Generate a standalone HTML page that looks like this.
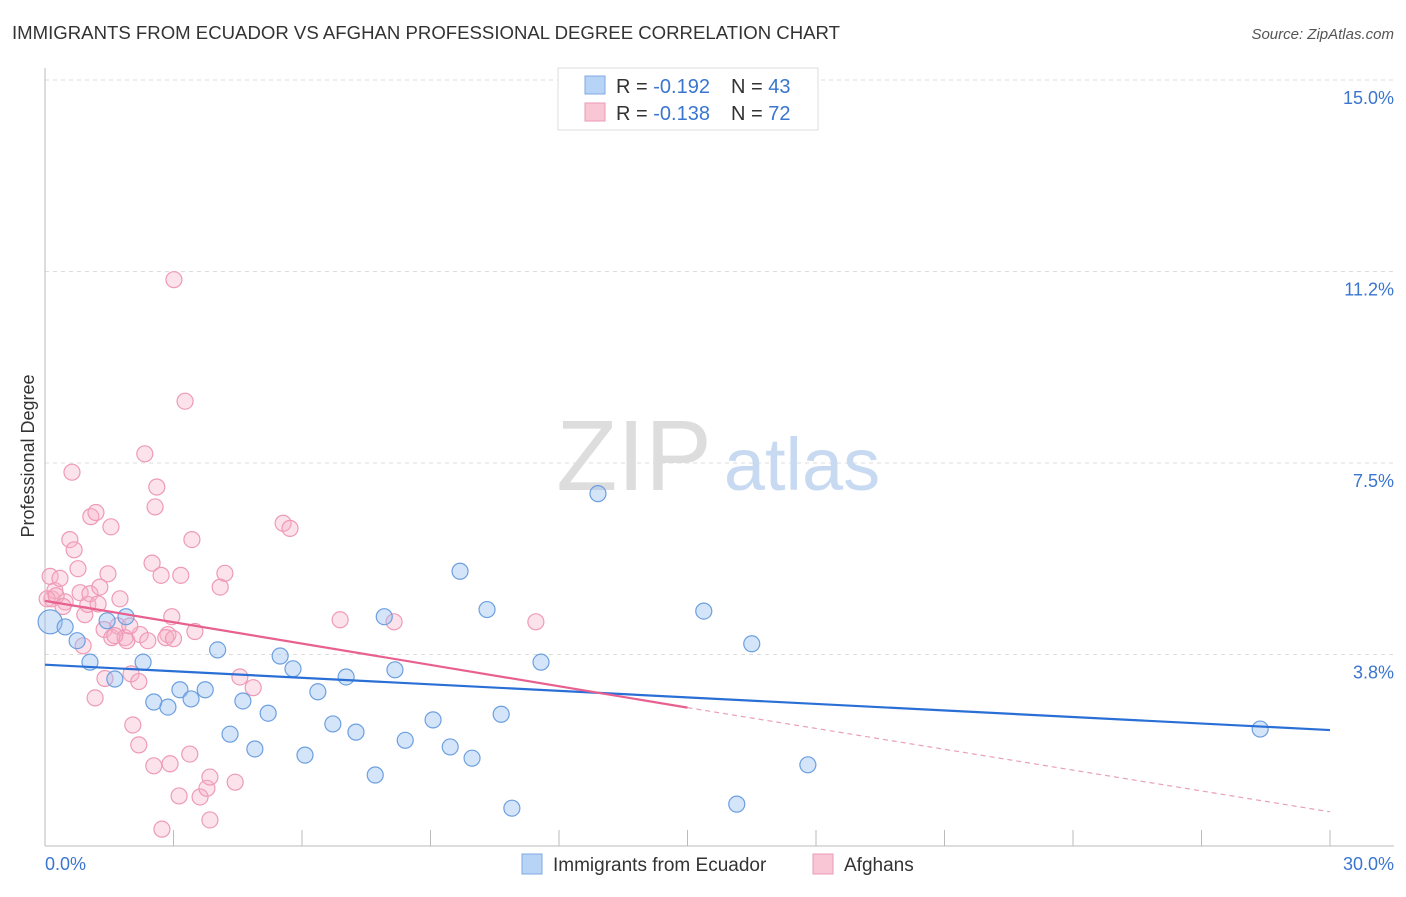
<!DOCTYPE html>
<html><head><meta charset="utf-8">
<style>
body{margin:0;background:#fff;font-family:"Liberation Sans",sans-serif;}
svg text{font-family:"Liberation Sans",sans-serif;}
</style></head>
<body>
<svg width="1406" height="892" viewBox="0 0 1406 892">
<text x="12" y="39" font-size="18" fill="#333" textLength="828" lengthAdjust="spacingAndGlyphs">IMMIGRANTS FROM ECUADOR VS AFGHAN PROFESSIONAL DEGREE CORRELATION CHART</text>
<text x="1394" y="39" font-size="15" fill="#555" font-style="italic" text-anchor="end">Source: ZipAtlas.com</text>
<g id="grid"></g>
<text x="634" y="490" font-size="100" fill="#ddd" font-family="Liberation Serif" text-anchor="middle">ZIP</text>
<text x="802" y="490" font-size="74" fill="#c8daf2" text-anchor="middle">atlas</text>
<text x="34" y="456" font-size="18" fill="#333" text-anchor="middle" transform="rotate(-90 34 456)">Professional Degree</text>
<g id="points"></g>
<g id="trends"></g>
<g>
<rect x="558" y="68" width="260" height="62" fill="#fff" stroke="#ddd"/>
<rect x="585" y="76" width="20" height="18" fill="#b7d3f6" stroke="#7fa9e3"/>
<text x="616" y="93" font-size="20" fill="#333">R = <tspan fill="#3a75d0">-0.192</tspan></text>
<text x="731" y="93" font-size="20" fill="#333">N = <tspan fill="#3a75d0">43</tspan></text>
<rect x="585" y="103" width="20" height="18" fill="#f9c6d6" stroke="#ec9ab6"/>
<text x="616" y="120" font-size="20" fill="#333">R = <tspan fill="#3a75d0">-0.138</tspan></text>
<text x="731" y="120" font-size="20" fill="#333">N = <tspan fill="#3a75d0">72</tspan></text>
</g>
<g>
<rect x="522" y="854" width="20" height="20" fill="#b7d3f6" stroke="#7fa9e3"/>
<text x="553" y="871" font-size="19" fill="#333">Immigrants from Ecuador</text>
<rect x="813" y="854" width="20" height="20" fill="#f9c6d6" stroke="#ec9ab6"/>
<text x="844" y="871" font-size="19" fill="#333">Afghans</text>
</g>
</svg>
<script>
const yTicks=[15,11.25,7.5,3.75];
const yTickLabels=["15.0%","11.2%","7.5%","3.8%"];
const xTickLabels=["0.0%","30.0%"];
const blueX=[0.12,0.47,0.75,1.05,1.45,1.89,1.63,2.29,2.54,2.87,3.15,3.41,3.74,4.03,4.32,4.62,4.9,5.21,5.49,5.79,6.07,6.37,6.72,7.03,7.26,7.71,7.92,8.17,8.41,9.06,9.46,9.69,9.97,10.32,10.65,10.9,11.58,12.91,15.38,16.15,16.5,17.81,28.37];
const blueY=[4.39,4.29,4.02,3.6,4.41,4.49,3.27,3.6,2.82,2.72,3.06,2.88,3.06,3.84,2.19,2.84,1.9,2.6,3.72,3.47,1.78,3.02,2.39,3.31,2.23,1.39,4.49,3.45,2.07,2.47,1.94,5.38,1.72,4.63,2.58,0.74,3.6,6.9,4.6,0.82,3.96,1.59,2.29];
const pinkX=[0.12,0.16,0.23,0.35,0.47,0.58,0.63,0.68,0.77,0.82,0.93,1.0,1.05,1.07,1.19,1.28,1.38,1.54,1.17,1.4,1.47,1.56,1.75,1.7,1.87,1.91,2.01,2.05,2.19,2.19,2.22,2.33,2.4,2.5,2.54,2.57,2.61,2.71,2.73,2.87,2.92,2.96,3.01,3.13,3.17,3.27,3.38,3.43,3.5,3.62,3.78,3.85,3.85,4.09,4.2,4.44,4.55,4.86,5.56,5.72,6.89,8.15,11.46,0.05,0.26,0.89,1.63,1.98,2.82,1.24,0.42,3.0];
const pinkY=[5.28,4.84,5.0,5.24,4.78,6.0,7.32,5.8,5.43,4.96,4.53,4.73,4.94,6.45,6.53,5.07,4.24,6.25,2.9,3.28,5.33,4.08,4.84,4.31,4.08,4.02,3.37,2.37,1.98,3.22,4.14,7.68,4.02,5.54,1.57,6.64,7.03,5.3,0.33,4.14,1.61,4.49,11.09,0.98,5.3,8.71,1.8,6.0,4.2,0.96,1.13,0.51,1.35,5.07,5.34,1.25,3.31,3.1,6.32,6.22,4.43,4.39,4.39,4.84,4.9,3.92,4.12,4.31,4.08,4.74,4.69,4.06];
const blueTrend=[0,3.55,30,2.27];
const pinkTrend=[0,4.8,15,2.71,30,0.67];
const X=v=>45+v/30*1285, Y=v=>846-v/3.75*191.5;
const NS="http://www.w3.org/2000/svg";
function mk(tag,attrs,parent){const e=document.createElementNS(NS,tag);for(const k in attrs)e.setAttribute(k,attrs[k]);document.getElementById(parent).appendChild(e);return e;}
yTicks.forEach((t,i)=>{
 const l=mk('line',{x1:45,x2:1394,y1:Y(t),y2:Y(t),stroke:'#ddd','stroke-dasharray':'4,4'},'grid');
 
 
 const tx=mk('text',{x:1394,y:Y(t)+24,'font-size':18,fill:'#3a75d0','text-anchor':'end'},'grid');tx.textContent=yTickLabels[i];
 
 
});
mk('line',{x1:45,x2:45,y1:68,y2:846,stroke:'#bbb'},'grid');
mk('line',{x1:45,x2:1394,y1:846,y2:846,stroke:'#bbb'},'grid');
for(let i=0;i<=10;i++){const t=mk('line',{x1:X(i*3),x2:X(i*3),y1:830,y2:846,stroke:'#bbb'},'grid');}
[[0,45,'start'],[30,1394,'end']].forEach((a,i)=>{const t=mk('text',{x:a[1],y:870,'font-size':18,fill:'#3a75d0','text-anchor':a[2]},'grid');t.textContent=xTickLabels[i];

});
pinkX.forEach((x,i)=>{const c=mk('circle',{cx:X(x),cy:Y(pinkY[i]),r:8,fill:'rgba(246,175,199,0.35)',stroke:'#ee9ab7','stroke-width':1.2},'points');

});
blueX.forEach((x,i)=>{const c=mk('circle',{cx:X(x),cy:Y(blueY[i]),r:i===0?12:8,fill:'rgba(150,190,240,0.4)',stroke:'#6c9fe0','stroke-width':1.2},'points');

});
let b=mk('line',{x1:X(blueTrend[0]),y1:Y(blueTrend[1]),x2:X(blueTrend[2]),y2:Y(blueTrend[3]),stroke:'#2a6fd6','stroke-width':2.2},'trends');


let p=mk('line',{x1:X(pinkTrend[0]),y1:Y(pinkTrend[1]),x2:X(pinkTrend[2]),y2:Y(pinkTrend[3]),stroke:'#e8608f','stroke-width':2.2},'trends');


let pd=mk('line',{x1:X(pinkTrend[2]),y1:Y(pinkTrend[3]),x2:X(pinkTrend[4]),y2:Y(pinkTrend[5]),stroke:'#e8a0b8','stroke-width':1.2,'stroke-dasharray':'5,4'},'trends');


</script>
</body></html>
